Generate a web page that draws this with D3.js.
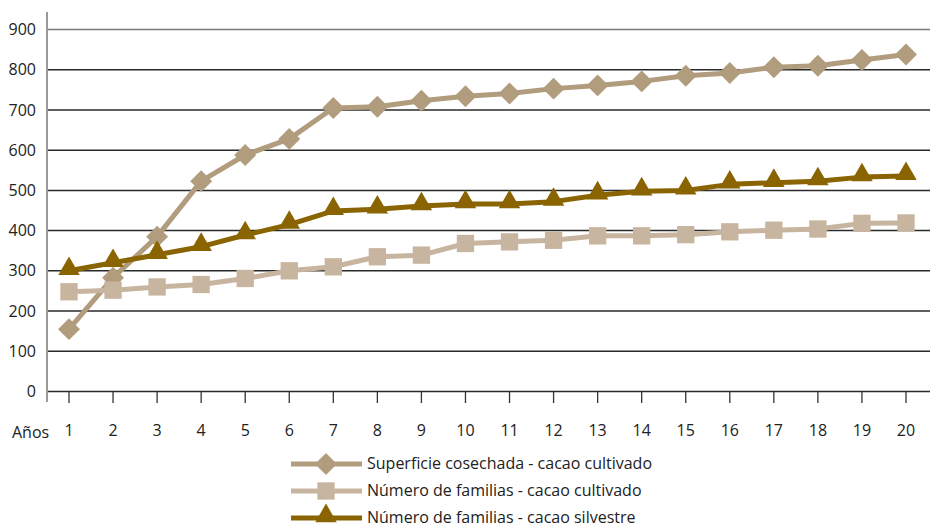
<!DOCTYPE html>
<html><head><meta charset="utf-8">
<script src="https://cdn.jsdelivr.net/npm/d3@7"></script>
<style>body{margin:0;background:#fff}svg{display:block}text{font-family:"Open Sans",sans-serif;fill:#222}</style>
</head><body><svg id="c" width="930" height="529"></svg>
<script>
const years = d3.range(1,21);
const yTicks = [0,100,200,300,400,500,600,700,800,900];
const superficieCultivado = [155,283,385,523,588,628,705,708,723,734,741,753,761,771,785,792,806,810,824,838];
const familiasCultivado   = [248,252,260,266,281,300,310,335,339,368,372,376,387,387,390,397,401,404,418,419];
const familiasSilvestre   = [300,320,340,360,389,415,449,453,461,466,466,472,488,498,500,515,519,523,533,536];
const seriesNames = ["Superficie cosechada - cacao cultivado","Número de familias - cacao cultivado","Número de familias - cacao silvestre"];

const series = [
  {name:seriesNames[0], values:superficieCultivado, color:"#b19c7e", shape:"diamond"},
  {name:seriesNames[1], values:familiasCultivado, color:"#c7b5a0", shape:"square"},
  {name:seriesNames[2], values:familiasSilvestre, color:"#8a6400", shape:"triangle"}
];

const svg = d3.select("#c");
const x = d3.scalePoint().domain(years).range([69,906]);
const y = d3.scaleLinear().domain([0,900]).range([391.5,29.5]);

svg.append("g").selectAll("line").data(yTicks).join("line")
  .attr("x1",48).attr("x2",930).attr("y1",d=>y(d)).attr("y2",d=>y(d))
  .attr("stroke",d=>d===900?"#777":"#2a2a2a").attr("stroke-width",1.5);

svg.append("line").attr("x1",47).attr("x2",47).attr("y1",12).attr("y2",402)
  .attr("stroke","#999").attr("stroke-width",2);

svg.append("g").selectAll("text").data(yTicks).join("text")
  .attr("x",36).attr("y",d=>y(d)).attr("dy","0.35em").attr("text-anchor","end")
  .attr("font-size",16).text(d=>d);

svg.append("g").selectAll("line").data(years).join("line")
  .attr("x1",d=>x(d)).attr("x2",d=>x(d)).attr("y1",392).attr("y2",403)
  .attr("stroke","#333").attr("stroke-width",1.3);
svg.append("g").selectAll("text").data(years).join("text")
  .attr("x",d=>x(d)).attr("y",430).attr("dy","0.35em").attr("text-anchor","middle")
  .attr("font-size",16).text(d=>d);
svg.append("text").attr("x",12).attr("y",432).attr("dy","0.35em").attr("font-size",16).text("Años");

const sym = {
  diamond: d3.symbol().type(d3.symbolSquare).size(240),
  square: d3.symbol().type(d3.symbolSquare).size(300),
  triangle: d3.symbol().type(d3.symbolTriangle).size(200)
};
function marker(g, s){
  const p = g.append("path").attr("d", sym[s.shape]()).attr("fill", s.color);
  if(s.shape==="diamond") p.attr("transform","rotate(45)");
  return p;
}

const line = d3.line().x((d,i)=>x(years[i])).y(d=>y(d));
series.forEach(s=>{
  const g = svg.append("g");
  g.append("path").attr("d",line(s.values)).attr("fill","none")
    .attr("stroke",s.color).attr("stroke-width",5).attr("stroke-linejoin","round");
  s.values.forEach((v,i)=>{
    const m = g.append("g").attr("transform",`translate(${x(years[i])},${y(v) + (s.shape==="triangle"?-2:0)})`);
    marker(m,s);
  });
});

const lg = svg.append("g");
series.forEach((s,i)=>{
  const yy = 464 + i*27;
  lg.append("line").attr("x1",291).attr("x2",362).attr("y1",yy).attr("y2",yy)
    .attr("stroke",s.color).attr("stroke-width",5);
  const m = lg.append("g").attr("transform",`translate(326,${yy + (s.shape==="triangle"?-2:0)})`);
  marker(m,s);
  lg.append("text").attr("x",367).attr("y",yy).attr("dy","0.33em").attr("font-size",16).text(s.name);
});
</script></body></html>
